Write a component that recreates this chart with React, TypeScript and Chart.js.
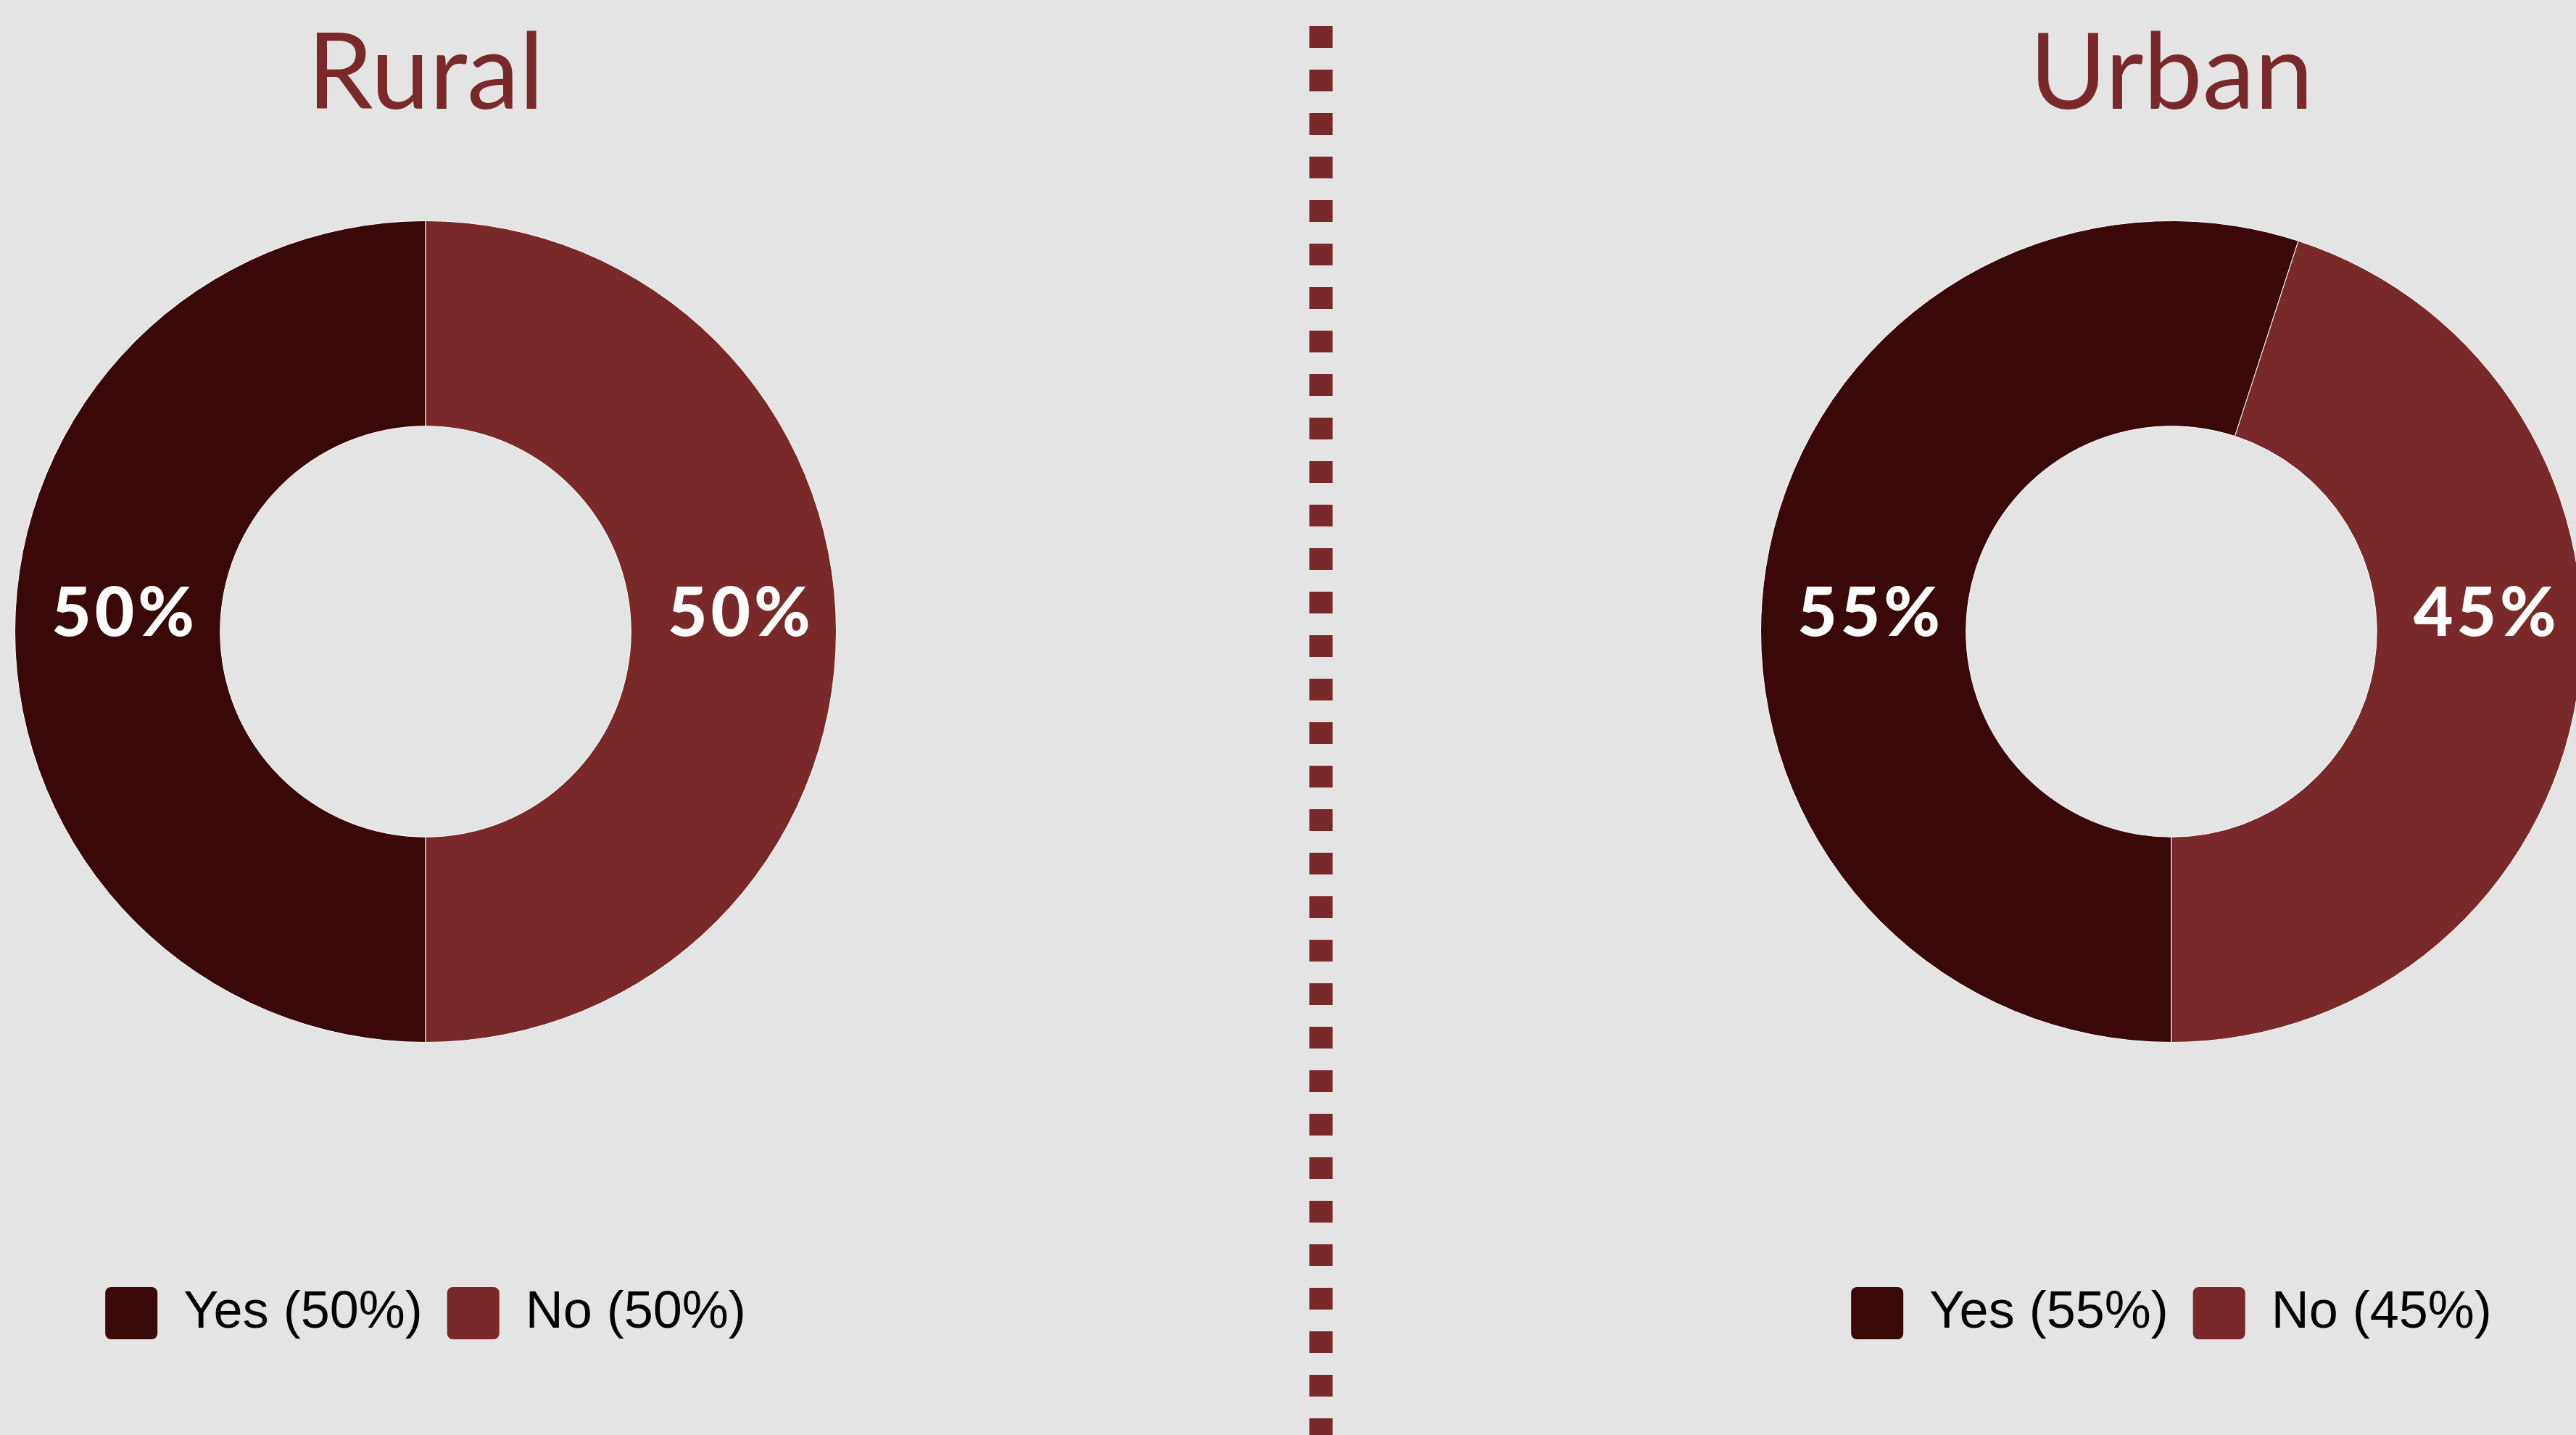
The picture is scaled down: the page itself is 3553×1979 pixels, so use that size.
import React, { useEffect, useRef } from 'react';
import { Chart, registerables } from 'chart.js';

Chart.register(...registerables);

// ---- data ----
const categories = ['Yes', 'No'];
const ruralValues = [50, 50];
const urbanValues = [55, 45];
const panelTitles = ['Rural', 'Urban'];
const segmentColors = ['#3A0808', '#7A292B'];

const BG = '#E4E4E4';
const ACCENT = '#7A292B';

const percentLabels = {
  id: 'percentLabels',
  afterDatasetsDraw(chart: any) {
    const meta = chart.getDatasetMeta(0);
    const ds = chart.data.datasets[0];
    const arc = meta.data[0];
    if (!arc) return;
    const { x, y, innerRadius, outerRadius } = arc.getProps(
      ['x', 'y', 'innerRadius', 'outerRadius'],
      true
    );
    const mid = (innerRadius + outerRadius) / 2;
    const ctx = chart.ctx;
    ctx.save();
    ctx.fillStyle = '#ffffff';
    ctx.font = '900 94px Lato';
    try {
      (ctx as any).letterSpacing = '5px';
    } catch (e) {}
    ctx.textAlign = 'center';
    ctx.textBaseline = 'alphabetic';
    ds.data.forEach((v: number, i: number) => {
      const side = i === 0 ? -1 : 1;
      ctx.fillText(`${v}%`, x + side * mid + 10, y + 6);
    });
    ctx.restore();
  },
};

function DonutPanel({ title, values }: { title: string; values: number[] }) {
  const ref = useRef<HTMLCanvasElement | null>(null);
  useEffect(() => {
    if (!ref.current) return;
    const chart = new Chart(ref.current, {
      type: 'doughnut',
      data: {
        labels: categories,
        datasets: [
          {
            data: values,
            backgroundColor: segmentColors,
            borderColor: '#ffffff',
            borderWidth: 1,
          },
        ],
      },
      plugins: [percentLabels],
      options: {
        animation: false,
        responsive: true,
        maintainAspectRatio: false,
        rotation: 180,
        cutout: '50%',
        layout: { padding: { top: 0, left: 0, right: 0, bottom: 122 } },
        plugins: {
          tooltip: { enabled: false },
          title: {
            display: true,
            text: title,
            color: ACCENT,
            font: { family: 'Lato', size: 145, weight: '400', lineHeight: 1.2 },
            padding: { top: 16, bottom: 114 },
          },
          legend: {
            display: true,
            position: 'bottom',
            title: {
              display: true,
              text: '',
              font: { size: 1, lineHeight: 1 },
              padding: { top: 302, bottom: 0 },
            },
            labels: {
              font: { family: 'Liberation Sans', size: 72 },
              color: '#000000',
              boxWidth: 72,
              boxHeight: 72,
              padding: 34,
              useBorderRadius: true,
              borderRadius: 8,
              generateLabels: (c: any) => {
                const ds = c.data.datasets[0];
                return c.data.labels.map((l: string, i: number) => ({
                  text: `${l} (${ds.data[i]}%)`,
                  fillStyle: ds.backgroundColor[i],
                  strokeStyle: ds.backgroundColor[i],
                  lineWidth: 0,
                  hidden: false,
                  index: i,
                  borderRadius: 8,
                  fontColor: '#000000',
                }));
              },
            },
          },
        },
      } as any,
    });
    return () => chart.destroy();
  }, [title, values]);
  return <canvas ref={ref} />;
}

export default function App() {
  useEffect(() => {
    document.body.style.margin = '0';
    document.body.style.background = BG;
  }, []);
  return (
    <div
      style={{
        position: 'relative',
        width: 3553,
        height: 1979,
        overflow: 'hidden',
        background: BG,
      }}
    >
      <div style={{ position: 'absolute', left: 0, top: 0, width: 1174, height: 1979 }}>
        <DonutPanel title={panelTitles[0]} values={ruralValues} />
      </div>
      <div
        style={{
          position: 'absolute',
          left: 1806,
          top: 36,
          width: 32,
          height: 1943,
          background: `repeating-linear-gradient(to bottom, ${ACCENT} 0px, ${ACCENT} 30px, transparent 30px, transparent 60px)`,
        }}
      />
      <div style={{ position: 'absolute', left: 2408, top: 0, width: 1174, height: 1979 }}>
        <DonutPanel title={panelTitles[1]} values={urbanValues} />
      </div>
    </div>
  );
}
